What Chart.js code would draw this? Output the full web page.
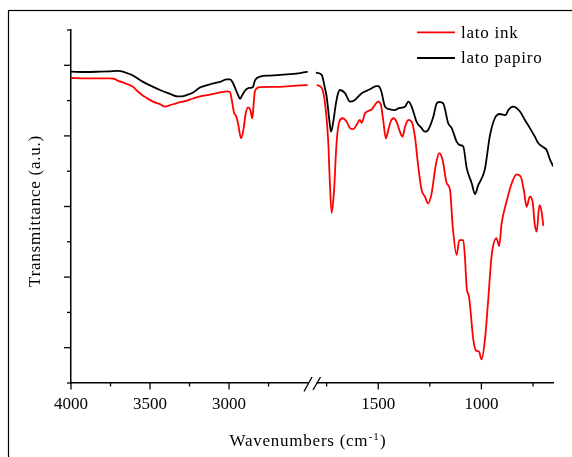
<!DOCTYPE html>
<html>
<head>
<meta charset="utf-8">
<script src="https://cdn.jsdelivr.net/npm/chart.js@4/dist/chart.umd.min.js"></script>
<style>
  html, body { margin: 0; padding: 0; background: #ffffff; }
  canvas { display: block; }
</style>
</head>
<body>
<canvas id="ftir" width="572" height="457"></canvas>
<script>
// FTIR spectra, wavenumber in cm-1, transmittance in arbitrary units.
// Each spectrum is split into the high-wavenumber part (left of the axis break)
// and the fingerprint part (right of the break).
const seriesNames = ['lato ink', 'lato papiro'];
const seriesColors = ['#ff0000', '#000000'];

const inkHighWn = [4000, 3905, 3816, 3753, 3720, 3703, 3680, 3646, 3608, 3582, 3544, 3519, 3481, 3437, 3405, 3373, 3329, 3266, 3228, 3184, 3120, 3057, 3013, 2994, 2980, 2968, 2955, 2943, 2924, 2908, 2895, 2880, 2865, 2853, 2845, 2837, 2820, 2804, 2741, 2677, 2614, 2550, 2502];
const inkHighT  = [86.4, 86.3, 86.3, 86.3, 86.1, 85.6, 85.3, 84.7, 83.9, 82.8, 81.4, 80.7, 79.7, 79.0, 78.3, 78.7, 79.3, 80.0, 80.6, 81.2, 81.7, 82.3, 82.6, 82.4, 79.5, 76.5, 75.6, 73.5, 69.3, 72.0, 76.2, 78.1, 77.3, 75.0, 78.5, 82.5, 83.6, 83.8, 83.9, 83.9, 84.1, 84.3, 84.4];

const inkLowWn = [1798, 1774, 1758, 1742, 1735, 1726, 1715, 1702, 1689, 1672, 1653, 1637, 1621, 1605, 1589, 1580, 1564, 1532, 1500, 1487, 1476, 1463, 1451, 1440, 1427, 1411, 1395, 1382, 1370, 1354, 1338, 1322, 1306, 1290, 1274, 1258, 1241, 1225, 1216, 1204, 1188, 1168, 1152, 1139, 1120, 1107, 1088, 1080, 1071, 1060, 1039, 1026, 1012, 999, 983, 967, 951, 927, 914, 902, 878, 853, 829, 809, 793, 781, 765, 752, 741, 732, 719, 708, 700];
const inkLowT  = [84.4, 83.6, 79.3, 68.0, 57.5, 48.2, 53.8, 68.0, 74.0, 75.0, 74.0, 72.2, 71.9, 73.1, 74.5, 73.7, 76.4, 77.5, 79.7, 78.8, 74.5, 69.3, 71.7, 74.0, 75.0, 74.0, 71.2, 69.8, 72.6, 74.5, 74.0, 69.7, 61.3, 54.7, 52.8, 50.9, 53.8, 60.3, 63.2, 65.1, 63.2, 56.6, 54.7, 44.3, 36.3, 40.5, 40.5, 35.8, 26.8, 24.4, 12.2, 9.2, 8.9, 6.7, 12.2, 23.5, 35.8, 41.0, 38.8, 45.2, 51.4, 56.6, 59.1, 58.4, 54.2, 49.9, 52.8, 51.4, 44.8, 42.9, 50.4, 48.5, 44.5];

const papiroHighWn = [4000, 3905, 3816, 3753, 3703, 3671, 3646, 3608, 3582, 3544, 3500, 3437, 3373, 3329, 3300, 3266, 3228, 3184, 3120, 3057, 3013, 2994, 2975, 2962, 2943, 2930, 2918, 2899, 2880, 2867, 2850, 2835, 2804, 2741, 2677, 2614, 2550, 2502];
const papiroHighT  = [88.2, 88.1, 88.2, 88.3, 88.4, 88.2, 87.8, 87.1, 86.4, 85.3, 84.3, 83.0, 81.9, 81.2, 81.2, 81.6, 82.3, 83.7, 84.6, 85.3, 86.0, 86.0, 85.0, 83.6, 81.6, 80.5, 81.4, 82.8, 83.5, 83.6, 83.8, 85.8, 86.8, 87.1, 87.3, 87.5, 87.8, 88.2];

const papiroLowWn = [1802, 1774, 1760, 1750, 1737, 1729, 1715, 1710, 1698, 1686, 1661, 1637, 1613, 1580, 1540, 1510, 1500, 1487, 1467, 1443, 1419, 1403, 1386, 1370, 1354, 1338, 1314, 1290, 1274, 1258, 1233, 1217, 1204, 1185, 1161, 1144, 1120, 1104, 1088, 1071, 1047, 1031, 1015, 1007, 983, 959, 935, 911, 882, 870, 846, 813, 789, 765, 741, 724, 700, 684, 667, 651];
const papiroLowT  = [87.9, 87.3, 84.0, 81.1, 74.5, 71.2, 75.1, 77.3, 81.3, 83.0, 82.1, 79.7, 80.2, 82.1, 83.2, 84.1, 84.1, 83.0, 78.3, 77.5, 77.3, 77.8, 78.0, 78.3, 79.7, 78.3, 74.0, 72.2, 71.2, 71.7, 75.4, 79.2, 79.6, 79.2, 73.6, 72.2, 68.4, 67.4, 67.0, 60.8, 56.6, 53.5, 56.1, 57.0, 60.6, 70.0, 75.0, 76.2, 75.9, 77.3, 78.3, 76.9, 74.5, 72.2, 69.8, 67.9, 66.8, 66.0, 63.2, 61.3];

// Labelled x ticks on each side of the break
const xTicksHigh = [4000, 3500, 3000];
const xTicksLow = [1500, 1000];
// Axis ranges
const highRange = [2475, 4000];
const lowRange = [653, 1821];

const FONT = '"Liberation Serif", "Times New Roman", serif';

function points(wn, t) {
  return wn.map((w, i) => ({ x: w, y: t[i] }));
}

function lineSet(label, color, axis, wn, t) {
  return {
    label: label,
    data: points(wn, t),
    xAxisID: axis,
    yAxisID: 'y',
    borderColor: color,
    backgroundColor: color,
    borderWidth: 1.8,
    pointRadius: 0,
    fill: false,
    cubicInterpolationMode: 'monotone'
  };
}

function drawLine(ctx, x1, y1, x2, y2) {
  ctx.beginPath();
  ctx.moveTo(x1, y1);
  ctx.lineTo(x2, y2);
  ctx.stroke();
}

function setSpacing(ctx, v) {
  if ('letterSpacing' in ctx) ctx.letterSpacing = v;
}

// Outer frame, outward tick marks, axis break, legend and axis titles
const decorations = {
  id: 'decorations',
  afterDraw(chart) {
    const ctx = chart.ctx;
    const area = chart.chartArea;
    const hi = chart.scales.xHigh;
    const lo = chart.scales.xLow;
    const y = chart.scales.y;
    const axisY = area.bottom;
    const breakX = hi.right;

    ctx.save();
    ctx.strokeStyle = '#000';
    ctx.fillStyle = '#000';

    // figure frame
    ctx.lineWidth = 1.2;
    ctx.strokeRect(8.5, 10.5, 600, 500);

    // x ticks every 250 cm-1, longer at labelled values
    ctx.lineWidth = 1.3;
    [hi, lo].forEach(s => {
      for (let v = Math.ceil(s.min / 250) * 250; v <= s.max; v += 250) {
        const px = s.getPixelForValue(v);
        if (Math.abs(px - breakX) < 8) continue;
        const len = v % 500 === 0 ? 6.5 : 3.5;
        drawLine(ctx, px, axisY, px, axisY + len);
      }
    });

    // y ticks every 10 units, major ticks at odd tens
    for (let v = 0; v <= 100; v += 10) {
      const py = y.getPixelForValue(v);
      const len = (v / 10) % 2 === 1 ? 7 : 4;
      drawLine(ctx, area.left, py, area.left - len, py);
    }

    // axis break
    ctx.fillStyle = '#fff';
    ctx.fillRect(breakX - 3.5, axisY - 2, 8, 4);
    ctx.fillStyle = '#000';
    ctx.lineWidth = 1.3;
    drawLine(ctx, breakX - 8, axisY + 8.5, breakX, axisY - 6);
    drawLine(ctx, breakX + 1, axisY + 7, breakX + 8.5, axisY - 6);

    // legend
    const legendY = [32.3, 58];
    ctx.font = '17px ' + FONT;
    setSpacing(ctx, '0.75px');
    ctx.textAlign = 'left';
    ctx.textBaseline = 'alphabetic';
    seriesNames.forEach((name, i) => {
      ctx.strokeStyle = seriesColors[i];
      ctx.lineWidth = 1.8;
      drawLine(ctx, 417, legendY[i], 455, legendY[i]);
      ctx.fillStyle = '#000';
      ctx.fillText(name, 461, legendY[i] + 5.4);
    });

    // x axis title with superscript
    const partA = 'Wavenumbers (cm', partB = '-1', partC = ')';
    ctx.font = '17px ' + FONT;
    const wa = ctx.measureText(partA).width;
    const wc = ctx.measureText(partC).width;
    ctx.font = '11px ' + FONT;
    const wb = ctx.measureText(partB).width;
    let tx = (area.left + area.right) / 2 - 4 - (wa + wb + 1 + wc) / 2;
    ctx.font = '17px ' + FONT;
    ctx.fillText(partA, tx, 446);
    tx += wa;
    ctx.font = '11px ' + FONT;
    ctx.fillText(partB, tx + 0.5, 439.5);
    tx += wb + 1;
    ctx.font = '17px ' + FONT;
    ctx.fillText(partC, tx, 446);

    // y axis title
    ctx.translate(39.5, 211);
    ctx.rotate(-Math.PI / 2);
    ctx.textAlign = 'center';
    ctx.fillText('Transmittance (a.u.)', 0, 0);

    ctx.restore();
  }
};

function xScale(range, tickValues) {
  return {
    type: 'linear',
    position: 'bottom',
    stack: 'wavenumber',
    stackWeight: 1,
    reverse: true,
    min: range[0],
    max: range[1],
    grid: { display: false },
    border: { display: true, color: '#000', width: 1.5 },
    ticks: {
      color: '#000',
      font: { family: FONT, size: 17 },
      padding: 3,
      maxRotation: 0,
      autoSkip: false,
      callback: v => String(v)
    },
    afterBuildTicks: s => { s.ticks = tickValues.map(v => ({ value: v })); },
    afterFit: s => { s.height = 74; }
  };
}

new Chart(document.getElementById('ftir'), {
  type: 'line',
  data: {
    datasets: [
      lineSet(seriesNames[0], seriesColors[0], 'xHigh', inkHighWn, inkHighT),
      lineSet(seriesNames[0], seriesColors[0], 'xLow', inkLowWn, inkLowT),
      lineSet(seriesNames[1], seriesColors[1], 'xHigh', papiroHighWn, papiroHighT),
      lineSet(seriesNames[1], seriesColors[1], 'xLow', papiroLowWn, papiroLowT)
    ]
  },
  options: {
    responsive: false,
    animation: false,
    devicePixelRatio: 1,
    layout: { padding: { left: 71, right: 19, top: 30, bottom: 0 } },
    plugins: {
      legend: { display: false },
      tooltip: { enabled: false }
    },
    scales: {
      xHigh: xScale(highRange, xTicksHigh),
      xLow: xScale(lowRange, xTicksLow),
      y: {
        type: 'linear',
        position: 'left',
        min: 0,
        max: 100,
        grid: { display: false },
        ticks: { display: false },
        border: { display: true, color: '#000', width: 1.5 },
        afterFit: s => { s.width = 0; }
      }
    }
  },
  plugins: [decorations]
});
</script>
</body>
</html>
